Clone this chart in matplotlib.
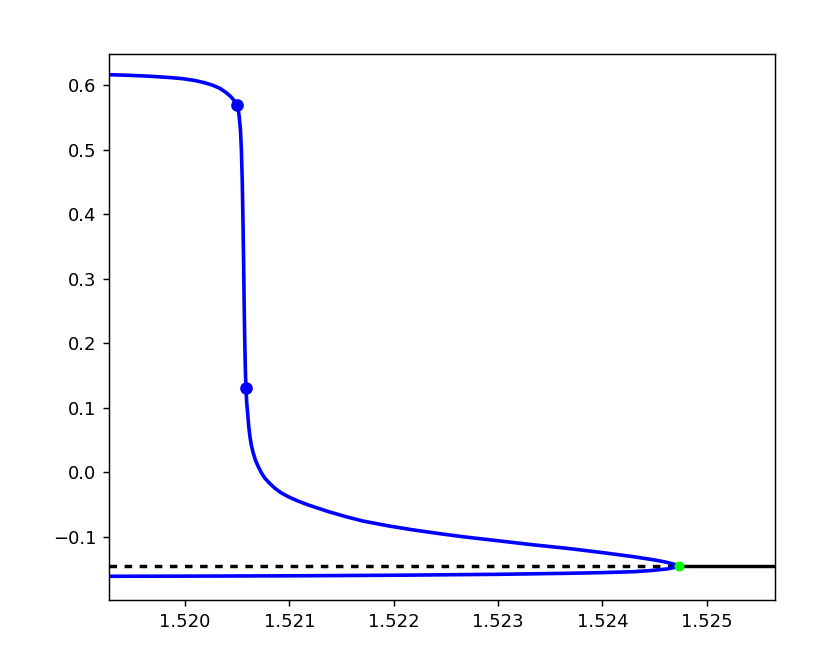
import matplotlib
matplotlib.use("Agg")
import matplotlib.pyplot as plt
from matplotlib.ticker import FuncFormatter

# continuation branch, upper part from left edge down to the fold (green point)
upper_x = [1.519272, 1.519473, 1.519665, 1.519856, 1.519981, 1.520096, 1.520192,
           1.520268, 1.520335, 1.520393, 1.520436, 1.520470, 1.520496, 1.520511,
           1.520520, 1.520532, 1.520541, 1.520549, 1.520556, 1.520562, 1.520567,
           1.520573, 1.520579, 1.520585, 1.520592, 1.520601, 1.520611, 1.520623,
           1.520637, 1.520655, 1.520677, 1.520703, 1.520733, 1.520767, 1.520815,
           1.520863, 1.520920, 1.520990, 1.521083, 1.521182, 1.521373, 1.521533,
           1.521706, 1.521946, 1.522185, 1.522425, 1.522664, 1.523019, 1.523335,
           1.523658, 1.523977, 1.524297, 1.524504, 1.524617, 1.524687, 1.524737]
upper_y = [0.6163, 0.6153, 0.6139, 0.6119, 0.6101, 0.6073, 0.6037,
           0.5998, 0.5952, 0.5887, 0.5828, 0.5766, 0.5693, 0.5616,
           0.5512, 0.5306, 0.4996, 0.4531, 0.3912, 0.3292, 0.2672,
           0.2053, 0.1588, 0.1309, 0.1077, 0.0917, 0.0720, 0.0555,
           0.0418, 0.0297, 0.0186, 0.0090, -0.0005, -0.0090, -0.0174,
           -0.0245, -0.0313, -0.0375, -0.0442, -0.0503, -0.0605, -0.0680,
           -0.0752, -0.0826, -0.0889, -0.0944, -0.0995, -0.1061, -0.1120,
           -0.1174, -0.1236, -0.1304, -0.1356, -0.1391, -0.1421, -0.1444]
# lower part, from the fold back to the left edge
lower_x = [1.524687, 1.524617, 1.524457, 1.524297, 1.523977, 1.523658,
           1.523019, 1.522061, 1.521102, 1.520144, 1.519272]
lower_y = [-0.1473, -0.1495, -0.1520, -0.1537, -0.1552, -0.1562,
           -0.1577, -0.1591, -0.1600, -0.1605, -0.1608]

# special points on the branch
dots_x = [1.520496, 1.520585]
dots_y = [0.5693, 0.1309]
hopf_x = 1.524737
hopf_y = -0.1444

# trivial steady state
ss_y = -0.1444
xmin, xmax = 1.519272, 1.5256546
ymin, ymax = -0.1975, 0.6479
xticks = [1.520, 1.521, 1.522, 1.523, 1.524, 1.525]

fig = plt.figure(figsize=(830 / 130, 655 / 130), dpi=130)
ax = fig.add_axes([0.1313, 0.0840, 0.9337 - 0.1313, 0.9171 - 0.0840])

ax.plot([xmin, hopf_x], [ss_y, ss_y], color="black", lw=1.9,
        linestyle=(0, (2.2, 2.2)))
ax.plot([hopf_x, xmax], [ss_y, ss_y], color="black", lw=1.9)
ax.plot(upper_x + lower_x, upper_y + lower_y, color="blue", lw=2)
ax.plot(dots_x, dots_y, "o", color="blue", ms=6)
ax.plot([hopf_x], [hopf_y], "o", color="lime", ms=4.5)

ax.set_xlim(xmin, xmax)
ax.set_ylim(ymin, ymax)
ax.set_xticks(xticks)
ax.xaxis.set_major_formatter(FuncFormatter(lambda v, p: f"{v:.3f}"))

fig.savefig("out.png", dpi=130)
